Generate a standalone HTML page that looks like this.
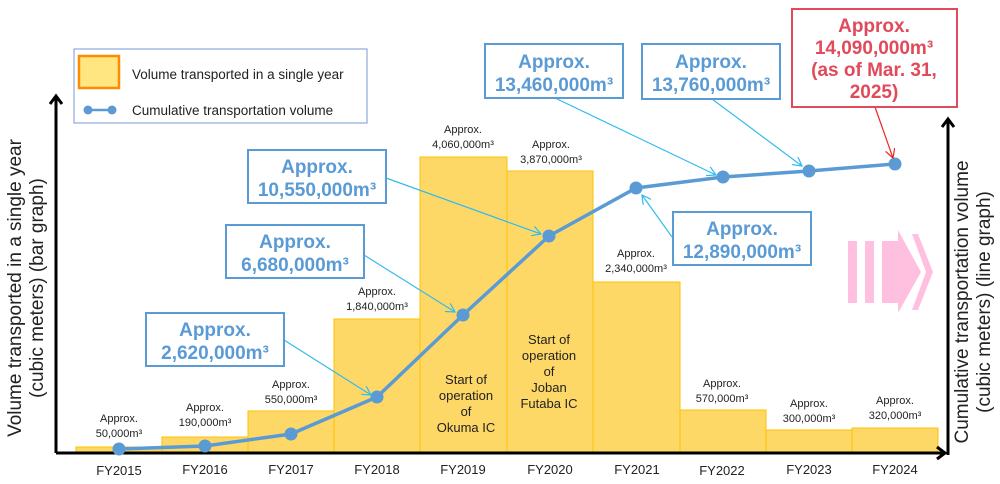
<!DOCTYPE html>
<html><head><meta charset="utf-8"><style>
html,body{margin:0;padding:0;background:#fff;width:1000px;height:484px;overflow:hidden}
svg{display:block;font-family:"Liberation Sans",sans-serif}
.bl{font-size:11px;fill:#222;text-anchor:middle}
.fy{font-size:13px;fill:#222;text-anchor:middle}
.bx{fill:#fff;stroke:#5b9bd5;stroke-width:2}
.bt{font-size:19px;font-weight:bold;fill:#5b9bd5;text-anchor:middle}
.rt{font-size:19px;font-weight:bold;fill:#e04a5a;text-anchor:middle}
.cn{stroke:#33bbee;stroke-width:1.2;fill:none}
</style></head><body>
<svg width="1000" height="484" viewBox="0 0 1000 484">
<defs>
<marker id="ac" markerWidth="10" markerHeight="10" refX="9" refY="5" orient="auto" markerUnits="userSpaceOnUse"><path d="M0,0 L9,5 L0,10" fill="none" stroke="#33bbee" stroke-width="1.2"/></marker>
<marker id="ar" markerWidth="10" markerHeight="10" refX="9" refY="5" orient="auto" markerUnits="userSpaceOnUse"><path d="M0,0 L9,5 L0,10" fill="none" stroke="#ee2222" stroke-width="1.2"/></marker>
</defs>
<g fill="#fdd866" stroke="#ffc000" stroke-width="1">
<rect x="76" y="447" width="86" height="5"/>
<rect x="162" y="437" width="86" height="15"/>
<rect x="248" y="411" width="86" height="41"/>
<rect x="334" y="319" width="86" height="133"/>
<rect x="420" y="157" width="87" height="295"/>
<rect x="507" y="171" width="86" height="281"/>
<rect x="593" y="282" width="87" height="170"/>
<rect x="680" y="410" width="86" height="42"/>
<rect x="766" y="430" width="86" height="22"/>
<rect x="852" y="428" width="86" height="24"/>
</g>
<g class="bl">
<text x="119" y="422">Approx.</text><text x="119" y="437">50,000m³</text>
<text x="205" y="411">Approx.</text><text x="205" y="426">190,000m³</text>
<text x="291" y="388">Approx.</text><text x="291" y="403">550,000m³</text>
<text x="377" y="295">Approx.</text><text x="377" y="310">1,840,000m³</text>
<text x="463" y="133">Approx.</text><text x="463" y="148">4,060,000m³</text>
<text x="551" y="148">Approx.</text><text x="551" y="163">3,870,000m³</text>
<text x="636" y="257">Approx.</text><text x="636" y="272">2,340,000m³</text>
<text x="722" y="387">Approx.</text><text x="722" y="402">570,000m³</text>
<text x="809" y="407">Approx.</text><text x="809" y="422">300,000m³</text>
<text x="895" y="404">Approx.</text><text x="895" y="419">320,000m³</text>
</g>
<g font-size="13" fill="#222" text-anchor="middle">
<text x="466" y="384">Start of</text><text x="466" y="400">operation</text><text x="466" y="416">of</text><text x="466" y="432">Okuma IC</text>
<text x="549" y="344">Start of</text><text x="549" y="360">operation</text><text x="549" y="376">of</text><text x="549" y="392">Joban</text><text x="549" y="408">Futaba IC</text>
</g>
<g stroke="#000" stroke-width="3" fill="none">
<line x1="56" y1="453" x2="56" y2="98"/>
<path d="M50,104 L56,96 L62,104"/>
<line x1="56" y1="453" x2="943" y2="453"/>
<line x1="948" y1="455" x2="948" y2="120"/>
<path d="M942,127 L948,119 L954,127"/>
<path d="M937,447 L945,453 L937,459"/>
</g>
<g class="fy">
<text x="119" y="475">FY2015</text><text x="205" y="474">FY2016</text><text x="291" y="474">FY2017</text>
<text x="377" y="474">FY2018</text><text x="463" y="474">FY2019</text><text x="550" y="474">FY2020</text>
<text x="637" y="474">FY2021</text><text x="722" y="475">FY2022</text><text x="809" y="474">FY2023</text><text x="895" y="474">FY2024</text>
</g>
<polyline points="119,449 205,446 291,434 377,397 463,315 549,236 636,188 723,177 809,171 895,164" fill="none" stroke="#5b9bd5" stroke-width="3.5"/>
<g fill="#5b9bd5">
<circle cx="119" cy="449" r="6.5"/><circle cx="205" cy="446" r="6.5"/><circle cx="291" cy="434" r="6.5"/>
<circle cx="377" cy="397" r="6.5"/><circle cx="463" cy="315" r="6.5"/><circle cx="549" cy="236" r="6.5"/>
<circle cx="636" cy="188" r="6.5"/><circle cx="723" cy="177" r="6.5"/><circle cx="809" cy="171" r="6.5"/><circle cx="895" cy="164" r="6.5"/>
</g>
<line class="cn" x1="284" y1="340" x2="371" y2="395" marker-end="url(#ac)"/>
<line class="cn" x1="364" y1="255" x2="455" y2="312" marker-end="url(#ac)"/>
<line class="cn" x1="386" y1="178" x2="541" y2="234" marker-end="url(#ac)"/>
<line class="cn" x1="555" y1="98" x2="716" y2="175" marker-end="url(#ac)"/>
<line class="cn" x1="712" y1="99" x2="802" y2="166" marker-end="url(#ac)"/>
<line class="cn" x1="672" y1="237" x2="642" y2="195" marker-end="url(#ac)"/>
<line x1="875" y1="107" x2="893" y2="158" stroke="#ee2222" stroke-width="1.2" marker-end="url(#ar)"/>
<rect x="74" y="49" width="293" height="74" fill="#fff" stroke="#8eaadb" stroke-width="1.2"/>
<rect x="79" y="56" width="40" height="32" fill="#ffe680" stroke="#ff8c00" stroke-width="2.5"/>
<text x="132" y="79" font-size="13.5" fill="#222">Volume transported in a single year</text>
<line x1="88" y1="110" x2="112" y2="110" stroke="#5b9bd5" stroke-width="2.5"/>
<circle cx="88" cy="110" r="4.5" fill="#5b9bd5"/><circle cx="112" cy="110" r="4.5" fill="#5b9bd5"/>
<text x="132" y="115" font-size="13.5" fill="#222">Cumulative transportation volume</text>
<rect class="bx" x="248" y="150" width="138" height="53"/>
<text class="bt" x="317" y="173">Approx.</text><text class="bt" x="317" y="196">10,550,000m³</text>
<rect class="bx" x="226" y="225" width="138" height="53"/>
<text class="bt" x="295" y="248">Approx.</text><text class="bt" x="295" y="271">6,680,000m³</text>
<rect class="bx" x="146" y="313" width="138" height="53"/>
<text class="bt" x="215" y="336">Approx.</text><text class="bt" x="215" y="359">2,620,000m³</text>
<rect class="bx" x="485" y="44" width="138" height="54"/>
<text class="bt" x="554" y="68">Approx.</text><text class="bt" x="554" y="91">13,460,000m³</text>
<rect class="bx" x="642" y="44" width="138" height="55"/>
<text class="bt" x="711" y="68">Approx.</text><text class="bt" x="711" y="91">13,760,000m³</text>
<rect class="bx" x="673" y="212" width="138" height="53"/>
<text class="bt" x="742" y="235">Approx.</text><text class="bt" x="742" y="258">12,890,000m³</text>
<rect x="792" y="9" width="165" height="98" fill="#fff" stroke="#e04a5a" stroke-width="2"/>
<text class="rt" x="874" y="32">Approx.</text><text class="rt" x="874" y="54">14,090,000m³</text>
<text class="rt" x="874" y="76">(as of Mar. 31,</text><text class="rt" x="874" y="98">2025)</text>
<g fill="#ffc0e0">
<rect x="848" y="241" width="9" height="62"/>
<rect x="865" y="241" width="9" height="62"/>
<path d="M882,241 L898,241 L898,230 L921,272 L898,313 L898,303 L882,303 Z"/>
<path d="M912,234 L918,234 L933,272 L918,310 L912,310 L926,272 Z"/>
</g>
<g font-size="19" fill="#222" text-anchor="middle">
<text transform="translate(21,288) rotate(-90)">Volume transported in a single year</text>
<text transform="translate(43,288) rotate(-90)">(cubic meters) (bar graph)</text>
<text transform="translate(968,302) rotate(-90)">Cumulative transportation volume</text>
<text transform="translate(990,302) rotate(-90)">(cubic meters) (line graph)</text>
</g>
</svg>
</body></html>
